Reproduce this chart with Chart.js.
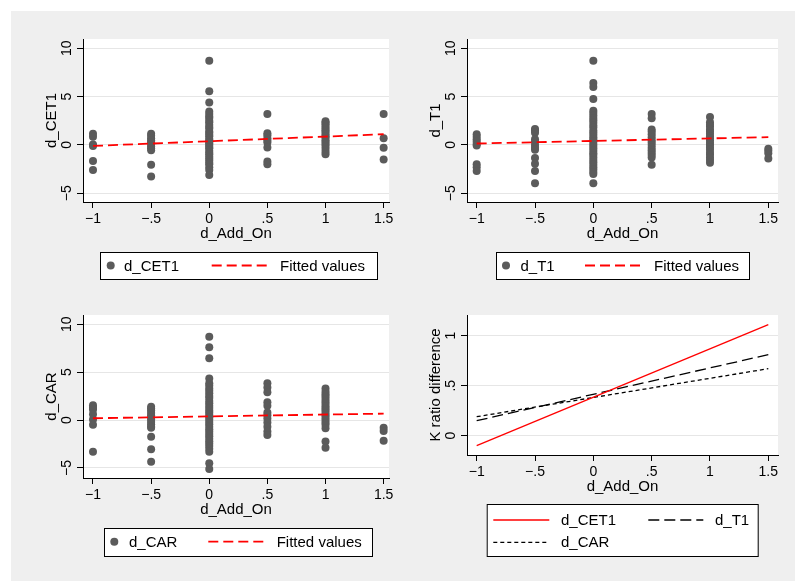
<!DOCTYPE html>
<html>
<head>
<meta charset="utf-8">
<title>d_Add_On fits</title>
<script src="https://cdn.jsdelivr.net/npm/chart.js@4.4.1/dist/chart.umd.min.js"></script>
<style>
  body { margin: 0; background: #fff; width: 795px; height: 581px; overflow: hidden; }
  #bg { position: absolute; left: 11px; top: 11px; width: 784px; height: 570px; background: #efefef; }
  canvas { position: absolute; }
</style>
</head>
<body>
<div id="bg"></div>
<canvas id="cet1Plot" width="400" height="290" style="left:0;top:0"></canvas>
<canvas id="t1Plot" width="395" height="290" style="left:400px;top:0"></canvas>
<canvas id="carPlot" width="400" height="291" style="left:0;top:290px"></canvas>
<canvas id="fitPlot" width="395" height="291" style="left:400px;top:290px"></canvas>

<script>
// DATA VALUES
const xLevels = [-1, -0.5, 0, 0.5, 1, 1.5];

// d_CET1 observations, one list per d_Add_On level
const cet1Values = [
  [1.15, 0.85, 0.05, -0.1, -1.65, -2.6],
  [1.15, 0.95, 0.7, 0.5, 0.3, 0.1, -0.15, -0.35, -0.55, -2.05, -3.25],
  [8.7, 5.55, 4.4, 3.45, 3.2, 2.95, 2.8, 2.5, 2.35, 2.1, 1.85, 1.7, 1.4, 1.25, 1.05, 0.9, 0.65, 0.5, 0.3, 0.15, 0,
   -0.2, -0.35, -0.6, -0.8, -0.95, -1.2, -1.4, -1.6, -1.85, -2.0, -2.3, -2.6, -3.1],
  [3.2, 1.2, 1.0, 0.7, 0.45, 0.25, -0.25, -1.7, -2.0],
  [2.45, 2.3, 2.15, 1.9, 1.7, 1.5, 1.35, 1.1, 0.9, 0.75, 0.5, 0.3, 0.1, -0.1, -0.4, -0.7, -0.95],
  [3.2, 0.7, -0.3, -1.5]
];

// d_T1 observations
const t1Values = [
  [1.1, 0.85, 0.6, 0.35, 0.1, -0.05, -2.0, -2.3, -2.7],
  [1.65, 1.5, 1.25, 0.6, 0.35, 0, -0.3, -0.5, -1.35, -1.95, -2.7, -3.95],
  [8.7, 6.4, 6.0, 4.75, 3.55, 3.3, 3.05, 2.8, 2.55, 2.3, 2.0, 1.8, 1.5, 1.3, 1.05, 0.8, 0.6, 0.35, 0.1, -0.1,
   -0.35, -0.6, -0.85, -1.05, -1.3, -1.55, -1.8, -2.05, -2.3, -2.55, -2.8, -3.0, -3.95],
  [3.2, 2.75, 1.6, 1.4, 1.1, 0.8, 0.5, 0.25, 0, -0.3, -0.55, -0.8, -1.05, -1.3, -2.05],
  [2.9, 2.35, 2.1, 1.9, 1.6, 1.4, 1.15, 0.9, 0.7, 0.45, 0.2, 0, -0.25, -0.5, -0.8, -1.0, -1.3, -1.55, -1.85],
  [-0.4, -0.6, -0.85, -1.4]
];

// d_CAR observations
const carValues = [
  [1.55, 1.3, 1.1, 0.6, 0.05, -0.5, -3.3],
  [1.4, 1.2, 1.0, 0.75, 0.5, 0.3, 0.05, -0.2, -0.45, -0.7, -0.8, -1.75, -3.05, -4.35],
  [8.7, 7.6, 6.45, 4.35, 3.85, 3.6, 3.3, 3.05, 2.8, 2.5, 2.3, 2.0, 1.75, 1.5, 1.25, 1.0, 0.8, 0.55, 0.3, 0.05,
   -0.2, -0.45, -0.7, -0.95, -1.2, -1.45, -1.7, -1.95, -2.2, -2.45, -2.7, -3.0, -3.3, -4.5, -5.1],
  [3.85, 3.4, 2.9, 1.85, 1.5, 0.8, 0.5, 0.15, -0.25, -0.7, -1.2, -1.55],
  [3.3, 2.95, 2.7, 2.45, 2.2, 1.95, 1.7, 1.45, 1.2, 1.0, 0.75, 0.5, 0.25, 0, -0.25, -0.5, -0.85, -2.25, -2.9],
  [-0.8, -1.15, -2.15]
];

// fitted values at the ends of the d_Add_On range
const fitX = [-1, 1.5];
const fitCET1 = [-0.1, 1.11];
const fitT1 = [0.15, 0.81];
const fitCAR = [0.19, 0.67];

// TICKS
const xTickValues = [-1, -0.5, 0, 0.5, 1, 1.5];
const xTickLabels = ['\u22121', '\u2212.5', '0', '.5', '1', '1.5'];
const yTickValues = [-5, 0, 5, 10];
const yTickLabels = ['\u22125', '0', '5', '10'];
const kTickValues = [0, 0.5, 1];
const kTickLabels = ['0', '.5', '1'];

Chart.defaults.font.family = '"Liberation Sans", Arial, Helvetica, sans-serif';
Chart.defaults.color = '#000';

const markerGray = '#5b5b5b';
const fitRed = '#ff0000';

function toPoints(groups) {
  const pts = [];
  groups.forEach((vals, i) => vals.forEach(v => pts.push({x: xLevels[i], y: v})));
  return pts;
}
function fitPoints(ys) {
  return fitX.map((x, i) => ({x: x, y: ys[i]}));
}

// plot region fill, rotated y labels, y title and the boxed legend
const stataPlugin = {
  id: 'stata',
  beforeDraw(chart) {
    const {ctx, chartArea: a} = chart;
    ctx.save();
    ctx.fillStyle = '#fff';
    ctx.fillRect(a.left, a.top, a.right - a.left, a.bottom - a.top);
    ctx.restore();
  },
  afterDraw(chart, args, opts) {
    const {ctx, chartArea: a} = chart;
    const ys = chart.scales.y;
    ctx.save();
    ctx.fillStyle = '#000';
    ctx.textAlign = 'center';
    ctx.textBaseline = 'alphabetic';
    ctx.font = '14px "Liberation Sans", Arial, sans-serif';
    opts.yTicks.forEach((v, i) => {
      ctx.save();
      ctx.translate(a.left - 12, ys.getPixelForValue(v));
      ctx.rotate(-Math.PI / 2);
      ctx.fillText(opts.yLabels[i], 0, 0);
      ctx.restore();
    });
    ctx.font = '15px "Liberation Sans", Arial, sans-serif';
    ctx.save();
    ctx.translate(a.left - 27, (a.top + a.bottom) / 2);
    ctx.rotate(-Math.PI / 2);
    ctx.fillText(opts.yTitle, 0, 0);
    ctx.restore();

    // legend
    const b = opts.legend.box;
    ctx.fillStyle = '#fff';
    ctx.fillRect(b[0], b[1], b[2], b[3]);
    ctx.strokeStyle = '#000';
    ctx.lineWidth = 1;
    ctx.strokeRect(b[0] + 0.5, b[1] + 0.5, b[2], b[3]);
    opts.legend.items.forEach(it => {
      const ds = chart.data.datasets[it.ds];
      if (ds.showLine) {
        ctx.save();
        ctx.strokeStyle = ds.borderColor;
        ctx.lineWidth = ds.borderWidth;
        ctx.setLineDash(ds.borderDash || []);
        ctx.beginPath();
        ctx.moveTo(it.x1, it.y);
        ctx.lineTo(it.x2, it.y);
        ctx.stroke();
        ctx.restore();
      } else {
        ctx.fillStyle = ds.pointBackgroundColor;
        ctx.beginPath();
        ctx.arc(it.x1, it.y, 4, 0, Math.PI * 2);
        ctx.fill();
      }
      ctx.fillStyle = '#000';
      ctx.textAlign = 'left';
      ctx.textBaseline = 'middle';
      ctx.fillText(ds.label, it.tx, it.y + 1);
    });
    ctx.restore();
  }
};

function makeScales(ymin, ymax, xmin, xmax) {
  return {
    x: {
      type: 'linear',
      min: xmin,
      max: xmax,
      afterBuildTicks: s => { s.ticks = xTickValues.map(v => ({value: v})); },
      afterFit: s => { s.height = 42; },
      ticks: {
        autoSkip: false,
        maxRotation: 0,
        padding: 3,
        font: {size: 14},
        color: '#000',
        callback: v => xTickLabels[xTickValues.indexOf(v)]
      },
      grid: {drawOnChartArea: false, drawTicks: true, tickLength: 6, tickColor: '#000'},
      border: {display: true, color: '#000', width: 1},
      title: {display: true, text: 'd_Add_On', font: {size: 15}, color: '#000', padding: {top: 0, bottom: 1}}
    },
    y: {
      type: 'linear',
      min: ymin,
      max: ymax,
      afterFit: s => { s.width = 40; },
      ticks: {display: false},
      grid: {color: '#e6e6e6', lineWidth: 1, drawTicks: true, tickLength: 6, tickColor: '#000'},
      border: {display: true, color: '#000', width: 1}
    }
  };
}

function scatterPanel(id, values, fit, name, pad, ymin, ymax, xmin, xmax, legend) {
  return new Chart(id, {
    type: 'scatter',
    data: {
      datasets: [{
        label: name,
        data: toPoints(values),
        pointRadius: 4,
        pointHoverRadius: 4,
        pointBackgroundColor: markerGray,
        pointBorderWidth: 0,
        order: 1
      }, {
        label: 'Fitted values',
        data: fitPoints(fit),
        showLine: true,
        borderColor: fitRed,
        borderWidth: 1.8,
        borderDash: [10, 5],
        pointRadius: 0,
        order: 0
      }]
    },
    options: {
      responsive: false,
      animation: false,
      layout: {padding: pad},
      scales: (() => {
        const s = makeScales(ymin, ymax, xmin, xmax);
        s.y.afterBuildTicks = sc => { sc.ticks = yTickValues.map(v => ({value: v})); };
        return s;
      })(),
      plugins: {
        legend: {display: false},
        tooltip: {enabled: false},
        stata: {yTicks: yTickValues, yLabels: yTickLabels, yTitle: name, legend: legend}
      }
    },
    plugins: [stataPlugin]
  });
}

scatterPanel('cet1Plot', cet1Values, fitCET1, 'd_CET1',
  {left: 43, right: 11, top: 39, bottom: 46}, -5.9, 10.96, -1.086, 1.546,
  {box: [100, 252, 277, 27], items: [
    {ds: 0, x1: 110.7, tx: 124, y: 265.5},
    {ds: 1, x1: 211.7, x2: 266.7, tx: 280, y: 265.5}
  ]});

scatterPanel('t1Plot', t1Values, fitT1, 'd_T1',
  {left: 27, right: 17, top: 39, bottom: 46}, -5.9, 10.96, -1.083, 1.583,
  {box: [96, 252, 253, 27], items: [
    {ds: 0, x1: 106, tx: 120.5, y: 265.5},
    {ds: 1, x1: 185, x2: 240.7, tx: 254, y: 265.5}
  ]});

scatterPanel('carPlot', carValues, fitCAR, 'd_CAR',
  {left: 43, right: 11, top: 25, bottom: 61}, -6.05, 10.97, -1.086, 1.546,
  {box: [104, 238, 268, 28], items: [
    {ds: 0, x1: 114.3, tx: 129, y: 251.7},
    {ds: 1, x1: 208.3, x2: 265, tx: 276.7, y: 251.7}
  ]});

// combined fitted lines
const fitScales = makeScales(-0.193, 1.207, -1.083, 1.583);
fitScales.y.afterBuildTicks = sc => { sc.ticks = kTickValues.map(v => ({value: v})); };

new Chart('fitPlot', {
  type: 'scatter',
  data: {
    datasets: [{
      label: 'd_CET1',
      data: fitPoints(fitCET1),
      showLine: true,
      borderColor: fitRed,
      borderWidth: 1.3,
      pointRadius: 0
    }, {
      label: 'd_T1',
      data: fitPoints(fitT1),
      showLine: true,
      borderColor: '#000',
      borderWidth: 1.3,
      borderDash: [11, 5],
      pointRadius: 0
    }, {
      label: 'd_CAR',
      data: fitPoints(fitCAR),
      showLine: true,
      borderColor: '#000',
      borderWidth: 1.3,
      borderDash: [4, 3],
      pointRadius: 0
    }]
  },
  options: {
    responsive: false,
    animation: false,
    layout: {padding: {left: 27, right: 17, top: 25, bottom: 84}},
    scales: fitScales,
    plugins: {
      legend: {display: false},
      tooltip: {enabled: false},
      stata: {
        yTicks: kTickValues, yLabels: kTickLabels, yTitle: 'K ratio difference',
        legend: {box: [86.7, 214, 271, 52], items: [
          {ds: 0, x1: 93.3, x2: 149.3, tx: 161, y: 230},
          {ds: 1, x1: 248.3, x2: 303.3, tx: 315, y: 230},
          {ds: 2, x1: 93.3, x2: 149.3, tx: 161, y: 252.3}
        ]}
      }
    }
  },
  plugins: [stataPlugin]
});
</script>
</body>
</html>
